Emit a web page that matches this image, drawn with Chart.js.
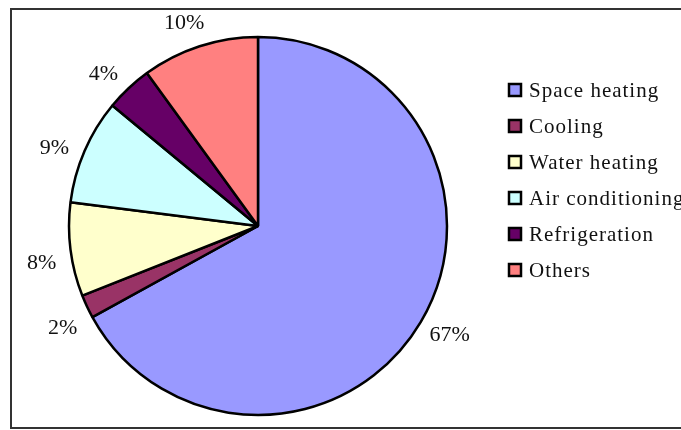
<!DOCTYPE html>
<html>
<head>
<meta charset="utf-8">
<script src="https://cdn.jsdelivr.net/npm/chart.js@4/dist/chart.umd.min.js"></script>
<style>
  html, body { margin: 0; padding: 0; background: #fff; }
  #wrap { width: 681px; height: 430px; }
</style>
</head>
<body>
<div id="wrap"><canvas id="pie"></canvas></div>
<script>
// данные
const categories = ['Space heating', 'Cooling', 'Water heating', 'Air conditioning', 'Refrigeration', 'Others'];
const shares = [67, 2, 8, 9, 4, 10];
const colors = ['#9999ff', '#993366', '#ffffcc', '#ccffff', '#660066', '#ff8080'];

// рамка вокруг всей картинки
const framePlugin = {
    id: 'frame',
    beforeDraw(chart) {
        const ctx = chart.ctx;
        ctx.save();
        ctx.fillStyle = '#fff';
        ctx.fillRect(0, 0, chart.width, chart.height);
        ctx.strokeStyle = '#333';
        ctx.lineWidth = 2;
        ctx.strokeRect(11, 9, 700, 419);
        ctx.restore();
    }
};

// подписи процентов снаружи круга
const labelPlugin = {
    id: 'pctLabels',
    afterDatasetsDraw(chart) {
        const ctx = chart.ctx;
        const meta = chart.getDatasetMeta(0);
        ctx.save();
        ctx.font = '22px "Liberation Serif", "Times New Roman", serif';
        ctx.fillStyle = '#111';
        ctx.textAlign = 'center';
        ctx.textBaseline = 'middle';
        meta.data.forEach((arc, i) => {
            const mid = (arc.startAngle + arc.endAngle) / 2 - 0.03;
            const d = arc.outerRadius + 30;
            ctx.fillText(shares[i] + '%', arc.x + Math.cos(mid) * d, arc.y + Math.sin(mid) * d + 3);
        });
        ctx.restore();
    }
};

// легенда справа
const legendPlugin = {
    id: 'sideLegend',
    afterDraw(chart) {
        const ctx = chart.ctx;
        ctx.save();
        ctx.font = '21px "Liberation Serif", "Times New Roman", serif';
        ctx.textBaseline = 'middle';
        ctx.letterSpacing = '1px';
        categories.forEach((name, i) => {
            const y = 90 + i * 36;
            ctx.fillStyle = colors[i];
            ctx.fillRect(509, y - 6, 12, 12);
            ctx.strokeStyle = '#000';
            ctx.lineWidth = 2.5;
            ctx.strokeRect(509, y - 6, 12, 12);
            ctx.fillStyle = '#111';
            ctx.fillText(name, 529, y + 1);
        });
        ctx.restore();
    }
};

new Chart(document.getElementById('pie'), {
    type: 'pie',
    data: {
        labels: categories,
        datasets: [{
            data: shares,
            backgroundColor: colors,
            borderColor: '#000',
            borderWidth: 2.5
        }]
    },
    options: {
        responsive: true,
        maintainAspectRatio: false,
        animation: false,
        radius: 189,
        layout: { padding: { left: 69, right: 234, top: 37, bottom: 15 } },
        plugins: {
            legend: { display: false },
            tooltip: { enabled: false }
        }
    },
    plugins: [framePlugin, labelPlugin, legendPlugin]
});
</script>
</body>
</html>
